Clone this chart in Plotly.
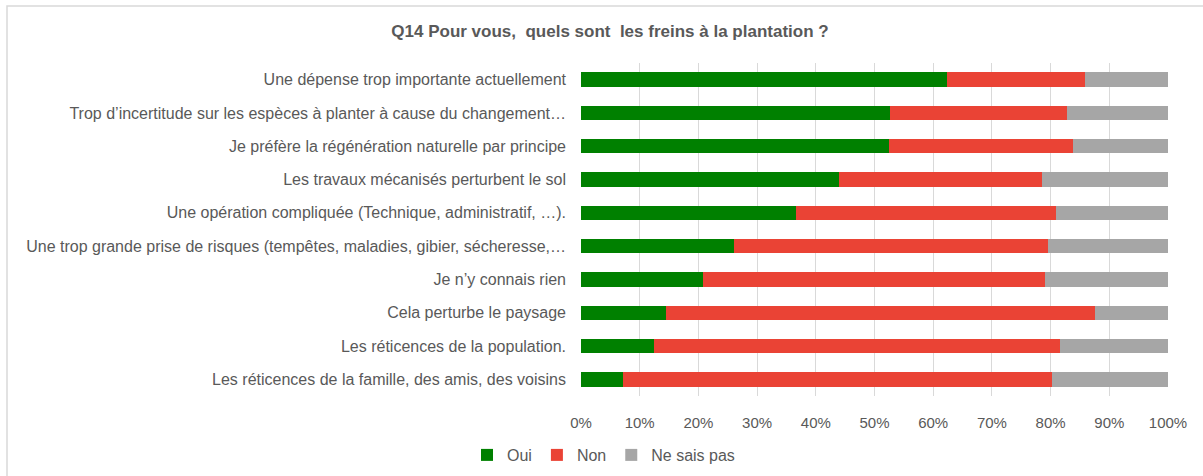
import plotly.graph_objects as go

categories = [
    "Une dépense trop importante actuellement",
    "Trop d’incertitude sur les espèces à planter à cause du changement…",
    "Je préfère la régénération naturelle par principe",
    "Les travaux mécanisés perturbent le sol",
    "Une opération compliquée (Technique, administratif, …).",
    "Une trop grande prise de risques (tempêtes, maladies, gibier, sécheresse,…",
    "Je n’y connais rien",
    "Cela perturbe le paysage",
    "Les réticences de la population.",
    "Les réticences de la famille, des amis, des voisins",
]
oui = [62.4, 52.7, 52.4, 43.9, 36.6, 26.0, 20.8, 14.5, 12.4, 7.2]
non = [23.5, 30.1, 31.4, 34.7, 44.3, 53.6, 58.2, 73.1, 69.2, 73.0]
nsp = [14.1, 17.2, 16.2, 21.4, 19.1, 20.4, 21.0, 12.4, 18.4, 19.8]
series_names = ["Oui", "Non", "Ne sais pas"]
colors = ["#008000", "#EA4335", "#A6A6A6"]
tick_vals = [0, 10, 20, 30, 40, 50, 60, 70, 80, 90, 100]
tick_text = [f"{v}%" for v in tick_vals]

fig = go.Figure()
for name, vals, col in zip(series_names, [oui, non, nsp], colors):
    fig.add_trace(go.Bar(
        y=categories, x=vals, name=name, orientation="h",
        marker=dict(color=col, line=dict(width=0)),
        hoverinfo="x+y+name",
    ))

FONT = "Liberation Sans, Arial, sans-serif"
L, R, T, B = 581, 1168, 63, 396
W, H = 1203, 476
PW, PH = R - L, B - T
fig.update_layout(
    barmode="stack",
    bargap=0.57,
    width=W, height=H,
    margin=dict(l=L, r=W - R, t=T, b=H - B, autoexpand=False),
    paper_bgcolor="white", plot_bgcolor="white",
    font=dict(family=FONT, size=14, color="#595959"),
    title=dict(text="<b>Q14 Pour vous,  quels sont  les freins à la plantation ?</b>",
               x=610 / W, xanchor="center", y=1 - 31 / H, yanchor="middle",
               font=dict(size=17, color="#595959", family=FONT)),
    legend=dict(orientation="h", x=(467 - L) / PW, xanchor="left", y=(B - 455) / PH, yanchor="middle",
                font=dict(size=16, color="#595959"), traceorder="normal",
                itemwidth=30, tracegroupgap=0),
    showlegend=True,
)
fig.update_xaxes(range=[0, 100], tickvals=tick_vals, ticktext=tick_text,
                 showgrid=True, gridcolor="#D9D9D9", gridwidth=1,
                 zeroline=False, showline=False, ticks="",
                 ticklabelstandoff=16, tickfont=dict(size=15, color="#595959"))
fig.update_yaxes(autorange="reversed", showgrid=False, showline=False, ticks="",
                 ticklabelstandoff=14, tickfont=dict(size=16, color="#595959"))

fig.add_shape(type="rect", xref="paper", yref="paper",
              x0=(7 - L) / PW, x1=(1240 - L) / PW,
              y0=(B - 520) / PH, y1=1 + (T - 6) / PH,
              line=dict(color="#D9D9D9", width=1.5), fillcolor="rgba(0,0,0,0)", layer="below")

fig.write_html("out.html", config={"displayModeBar": False},
               post_script="document.body.style.margin='0px';document.body.style.overflow='hidden';")
